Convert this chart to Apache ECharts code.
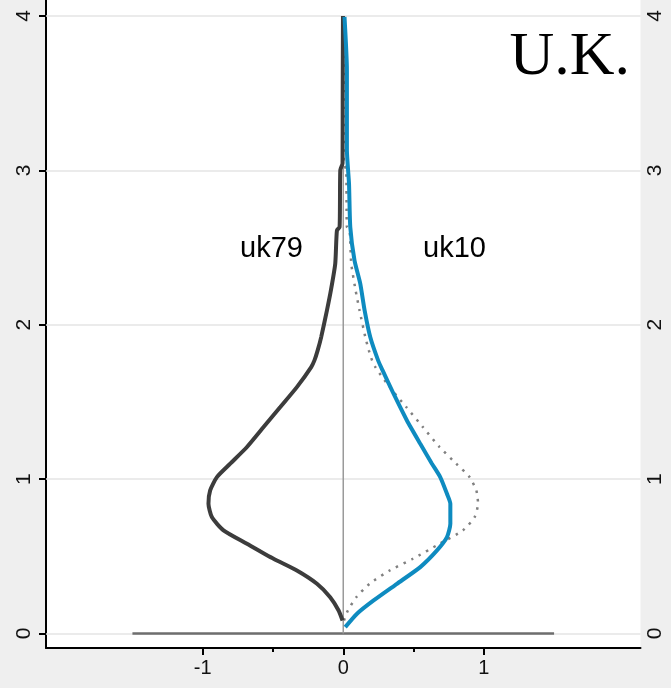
<!DOCTYPE html>
<html>
<head>
<meta charset="utf-8">
<script src="https://cdn.jsdelivr.net/npm/echarts@6/dist/echarts.min.js"></script>
<style>html,body{margin:0;padding:0;background:#efefef;}#c{width:671px;height:688px;}</style>
</head>
<body>
<div id="c"></div>
<script>
// uk79 density (positive values) at y levels, bottom to top
const uk79Y = [0.084,0.149,0.235,0.322,0.408,0.484,0.581,0.668,0.754,0.841,0.927,1.013,1.100,1.208,1.337,1.467,1.596,1.726,1.769,1.834,1.920,2.093,2.222,2.395,2.611,2.633,3.001,3.046,3.454,4.0];
const uk79D = [0.005,0.033,0.093,0.187,0.330,0.496,0.685,0.852,0.935,0.959,0.947,0.899,0.804,0.685,0.567,0.448,0.330,0.228,0.205,0.182,0.157,0.116,0.088,0.057,0.045,0.026,0.021,0.005,0.004,0.002];
// uk10 density at y levels, bottom to top
const uk10Y = [0.041,0.128,0.214,0.322,0.430,0.538,0.624,0.711,0.841,0.905,1.013,1.100,1.229,1.380,1.553,1.704,1.769,1.920,2.093,2.266,2.417,2.633,2.914,3.130,3.649,3.994];
const uk10D = [0.014,0.098,0.216,0.382,0.548,0.667,0.738,0.762,0.762,0.738,0.690,0.631,0.548,0.453,0.358,0.280,0.248,0.192,0.152,0.121,0.080,0.050,0.041,0.026,0.026,0.009];
const yTicks = [0,1,2,3,4];
const xTicks = [-1,0,1];
const xMinorTicks = [-0.5,0.5];
const baseLine = [-1.5,1.5];

const chart = echarts.init(document.getElementById('c'), null, {renderer:'canvas'});
const left79 = uk79Y.map((y,i)=>[-uk79D[i], y]);
const mirror79 = uk79Y.map((y,i)=>[uk79D[i], y]);
const right10 = uk10Y.map((y,i)=>[uk10D[i], y]);
const font = 'Liberation Sans, Arial, sans-serif';

chart.setOption({
  backgroundColor:'#efefef',
  animation:false,
  title:{text:'U.K.', right:36, top:22, textStyle:{fontFamily:'Liberation Serif, Times New Roman, serif', fontSize:62, fontWeight:'normal', color:'#000'}},
  graphic:[
    {type:'text', left:240, top:234, style:{text:'uk79', font:'29px Liberation Sans, Arial, sans-serif', fill:'#000'}},
    {type:'text', left:423, top:234, style:{text:'uk10', font:'29px Liberation Sans, Arial, sans-serif', fill:'#000'}}
  ],
  grid:{left:46, right:30.5, top:0, bottom:40, show:true, backgroundColor:'#ffffff', borderWidth:0},
  xAxis:[
    {type:'value', min:-2.115, max:2.115, position:'bottom',
     axisLine:{show:true, onZero:false, lineStyle:{color:'#000', width:2}},
     axisTick:{show:true, length:7, lineStyle:{color:'#000', width:2}, customValues:xTicks},
     axisLabel:{customValues:xTicks, fontSize:20, color:'#111', fontFamily:font, margin:10},
     splitLine:{show:false}},
    {type:'value', min:-2.115, max:2.115, position:'bottom', gridIndex:0,
     axisLine:{show:false, onZero:false},
     axisTick:{show:true, length:4, lineStyle:{color:'#000', width:2}, customValues:xMinorTicks},
     axisLabel:{show:false}, splitLine:{show:false}}
  ],
  yAxis:[
    {type:'value', min:-0.094, max:4.1036, position:'left',
     axisLine:{show:true, onZero:false, lineStyle:{color:'#000', width:2}},
     axisTick:{show:true, length:7, lineStyle:{color:'#000', width:2}, customValues:yTicks},
     axisLabel:{customValues:yTicks, rotate:90, fontSize:21, color:'#111', fontFamily:font, margin:11},
     splitLine:{show:false}},
    {type:'value', min:-0.094, max:4.1036, position:'right',
     axisLine:{show:false, onZero:false}, axisTick:{show:false},
     axisLabel:{customValues:yTicks, rotate:90, fontSize:21, color:'#111', fontFamily:font, margin:4},
     splitLine:{show:false}}
  ],
  series:[
    {type:'line', data:[], silent:true, z:1,
     markLine:{silent:true, z:1, symbol:'none', label:{show:false}, lineStyle:{color:'#e4e4e4', width:1.5, type:'solid'},
       data:yTicks.map(v=>({yAxis:v}))}},
    {type:'line', data:baseLine.map(x=>[x,0]), showSymbol:false, z:6, lineStyle:{color:'#6e6e6e', width:2.5}},
    {type:'line', data:[[0,0],[0,yTicks[yTicks.length-1]]], showSymbol:false, z:6, lineStyle:{color:'#9a9a9a', width:1.5}},
    {type:'line', data:mirror79, showSymbol:false, z:7, smooth:0.2, lineStyle:{color:'#808080', width:2.5, type:[2.5,6]}},
    {type:'line', data:left79, showSymbol:false, z:8, smooth:0.2, lineStyle:{color:'#3c3c3c', width:4}},
    {type:'line', data:right10, showSymbol:false, z:8, smooth:0.2, lineStyle:{color:'#0e8bc0', width:4}}
  ]
});
</script>
</body>
</html>
